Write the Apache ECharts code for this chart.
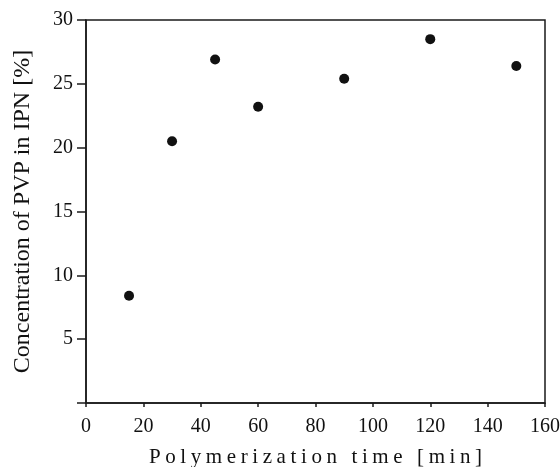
<!DOCTYPE html>
<html><head><meta charset="utf-8">
<script src="https://cdn.jsdelivr.net/npm/echarts@6/dist/echarts.min.js"></script>
<style>html,body{margin:0;padding:0;background:#fff}#c{width:560px;height:467px}</style>
</head><body><div id="c"></div>
<script>
const times = [15, 30, 45, 60, 90, 120, 150];
const pvp = [8.4, 20.5, 26.9, 23.2, 25.4, 28.5, 26.4];
const xTitle = 'Polymerization time [min]';
const yTitle = 'Concentration of PVP in IPN [%]';
const font = '"Liberation Serif", "DejaVu Serif", serif';

// widen the letter spacing of the x-axis title only
const origFill = CanvasRenderingContext2D.prototype.fillText;
CanvasRenderingContext2D.prototype.fillText = function (t, x, y, ...rest) {
  if (t === xTitle && 'letterSpacing' in this) {
    const f = this.font;
    this.save();
    this.letterSpacing = '4.6px';
    origFill.call(this, t, x + 2.3, y, ...rest);
    this.restore();
    this.letterSpacing = '0px';
    this.font = '10px serif';
    this.font = f;
  } else {
    origFill.call(this, t, x, y, ...rest);
  }
};

const chart = echarts.init(document.getElementById('c'));
chart.setOption({
  animation: false,
  backgroundColor: '#fff',
  grid: {left: 86, right: 15, top: 20, bottom: 64, outerBoundsMode: 'none', containLabel: false,
    show: true, borderColor: '#1a1a1a', borderWidth: 1.5, backgroundColor: 'transparent'},
  xAxis: {
    type: 'value', min: 0, max: 160, interval: 20,
    name: xTitle, nameLocation: 'middle', nameGap: 44,
    nameTextStyle: {fontFamily: font, fontSize: 21, color: '#111'},
    axisLine: {lineStyle: {color: '#1a1a1a', width: 1.5}},
    axisTick: {show: true, length: 4, lineStyle: {color: '#1a1a1a', width: 1.5}},
    axisLabel: {fontFamily: font, fontSize: 20, color: '#111', margin: 14},
    splitLine: {show: false}
  },
  yAxis: {
    type: 'value', min: 0, max: 30, interval: 5,
    name: yTitle, nameLocation: 'middle', nameGap: 51,
    nameTextStyle: {fontFamily: font, fontSize: 24, color: '#111'},
    axisLine: {lineStyle: {color: '#1a1a1a', width: 1.5}},
    axisTick: {show: true, length: 9, lineStyle: {color: '#1a1a1a', width: 1.5}},
    axisLabel: {fontFamily: font, fontSize: 20, color: '#111', margin: 13,
      formatter: v => v === 0 ? '' : String(v)},
    splitLine: {show: false}
  },
  series: [{
    type: 'scatter', data: times.map((t, i) => [t, pvp[i]]),
    symbol: 'circle', symbolSize: 10, itemStyle: {color: '#111', opacity: 1}
  }]
});
</script></body></html>
